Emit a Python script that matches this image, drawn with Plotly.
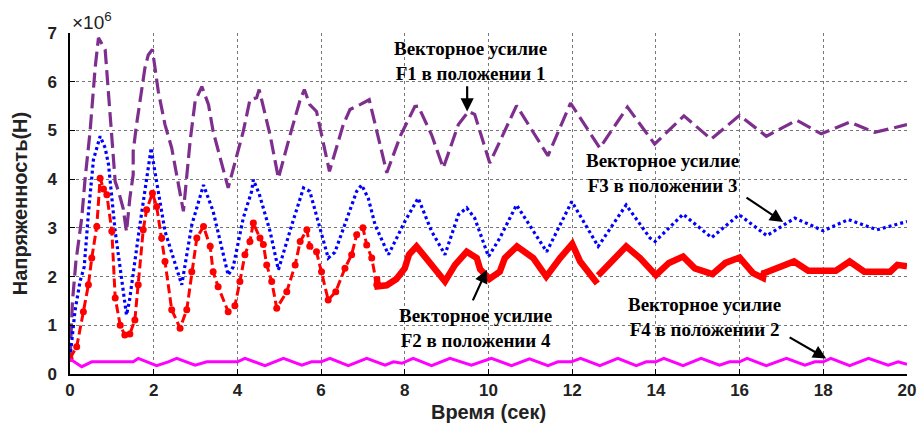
import plotly.graph_objects as go

# ---------------- data (values in units of 1e6 N) ----------------
f1_t = [0, 0.06, 0.14, 0.28, 0.36, 0.48, 0.6, 0.68, 0.84, 1.08, 1.16, 1.27, 1.35, 1.43, 1.51, 1.51,
        1.59, 1.79, 1.87, 1.97, 2.11, 2.27, 2.43, 2.63, 2.71, 2.87, 2.99, 3.15, 3.31, 3.42, 3.78,
        4.14, 4.30, 4.46, 4.52, 4.78, 4.98, 5.26, 5.50, 5.60, 5.73, 5.89, 6.20, 6.53, 6.69, 6.93,
        7.15, 7.57, 7.9, 8.24, 8.32, 8.64, 8.92, 9.28, 9.52, 9.67, 10.03, 10.67, 11.42, 11.96,
        12.66, 13.32, 13.97, 14.67, 15.32, 16.0, 16.64, 17.36, 17.95, 18.63, 19.23, 20.0]
f1_v = [0.3, 1.5, 2.3, 3.2, 4.0, 4.98, 6.28, 6.9, 6.66, 3.95, 3.75, 3.4, 2.92, 3.61, 4.09, 4.57,
        5.12, 6.28, 6.55, 6.66, 5.8, 5.12, 4.64, 3.75, 3.34, 4.78, 5.6, 5.9, 5.53, 4.98, 3.82,
        4.98, 5.63, 5.67, 5.84, 4.91, 4.02, 4.91, 5.63, 5.84, 5.53, 5.39, 4.16, 5.12, 5.43, 5.53,
        5.63, 4.13, 4.9, 5.49, 5.5, 4.91, 4.23, 5.12, 5.39, 5.33, 4.33, 5.51, 4.48, 5.56,
        4.64, 5.48, 4.72, 5.30, 4.82, 5.31, 4.88, 5.21, 4.93, 5.17, 4.96, 5.12]

f3_t = [0, 0.12, 0.24, 0.34, 0.44, 0.56, 0.72, 0.84, 0.92, 1.08, 1.35, 1.42, 1.67, 1.94, 2.0, 2.27,
        2.67, 2.91, 3.19, 3.42, 3.78, 3.9, 4.14, 4.34, 4.38, 4.52, 4.78, 4.98, 5.30, 5.58, 5.73,
        5.97, 6.17, 6.33, 6.61, 6.85, 6.97, 7.13, 7.29, 7.61, 8.0, 8.32, 8.64, 8.96, 9.28, 9.48,
        9.67, 10.0, 10.27, 10.67, 11.39, 11.99, 12.62, 13.29, 13.86, 13.98, 14.65, 15.33, 15.99,
        16.65, 17.32, 18.0, 18.6, 19.28, 20.0]
f3_v = [0.33, 1.3, 1.9, 2.2, 3.3, 4.4, 4.88, 4.64, 4.3, 2.93, 1.21, 1.5, 3.06, 4.64, 4.3, 2.93,
        1.83, 3.06, 3.88, 3.34, 2.03, 2.2, 3.2, 3.75, 3.99, 3.7, 2.93, 2.14, 3.06, 3.82, 3.75,
        3.0, 2.38, 2.5, 3.2, 3.75, 3.88, 3.6, 3.06, 2.45, 3.13, 3.61, 2.93, 2.45, 3.27, 3.41,
        3.2, 2.41, 2.79, 3.47, 2.51, 3.54, 2.62, 3.47, 2.79, 2.72, 3.28, 2.80, 3.27,
        2.84, 3.2, 2.94, 3.17, 2.96, 3.13]

f2_t_early = [0, 0.16, 0.32, 0.44, 0.52, 0.64, 0.72, 0.8, 0.88, 1.0, 1.08, 1.2, 1.31, 1.43, 1.55,
              1.63, 1.75, 1.83, 1.97, 2.07, 2.19, 2.27, 2.43, 2.63, 2.79, 2.91, 3.03, 3.19, 3.35,
              3.42, 3.54, 3.78, 3.94, 4.06, 4.18, 4.30, 4.38, 4.54, 4.62, 4.70, 4.82, 4.94, 5.18,
              5.38, 5.50, 5.66, 5.73, 5.89, 6.01, 6.17, 6.35, 6.57, 6.73, 6.85, 7.0, 7.09, 7.21,
              7.33]
f2_v_early = [0.32, 0.56, 1.28, 1.83, 2.38, 3.03, 4.02, 3.8, 3.68, 2.93, 1.56, 1.0, 0.8, 0.82, 1.11,
              1.83, 2.96, 3.37, 3.71, 3.44, 2.79, 2.31, 1.32, 0.94, 1.32, 2.1, 2.79, 3.03, 2.62,
              2.1, 1.79, 1.28, 1.4, 1.9, 2.45, 2.72, 3.1, 2.79, 2.66, 2.24, 1.9, 1.35, 1.69,
              2.24, 2.72, 2.96, 2.62, 2.51, 2.1, 1.52, 1.69, 2.17, 2.45, 2.86, 3.0, 2.65, 2.38,
              1.83]
f2_t_late = [7.33, 7.35, 7.57, 7.8, 8.0, 8.1, 8.28, 8.5, 8.72, 8.96, 9.2, 9.48, 9.72, 9.80, 10.02,
             10.27, 10.39, 10.68, 11.07, 11.38, 11.71, 12.0, 12.19, 12.6, None,
             12.62, 13.29, 13.62, 14.0, 14.31, 14.65, 14.93, 15.35, 15.66, 16.0, 16.32, 16.56,
             16.58, 16.9, 17.3, 17.64, 18.3, 18.63, 18.98, 19.6, 19.77, 20.0]
f2_v_late = [2.0, 1.8, 1.82, 1.95, 2.17, 2.45, 2.62, 2.4, 2.17, 1.9, 2.24, 2.51, 2.38, 2.15, 1.95,
             2.1, 2.38, 2.62, 2.38, 2.0, 2.38, 2.67, 2.31, 1.86, None,
             2.02, 2.62, 2.38, 2.03, 2.28, 2.41, 2.17, 2.05, 2.28, 2.39, 2.07, 1.97,
             2.07, 2.17, 2.31, 2.12, 2.12, 2.31, 2.1, 2.1, 2.24, 2.21]

f4_t = [0, 0.28, 0.52, 1.51, 1.63, 2.07, 2.35, 2.55, 2.99, 3.27, 4.0, 4.18, 4.66, 4.9, 5.10, 5.54,
        5.77, 6.0, 6.21, 6.65, 6.89, 7.09, 7.53, 7.73, 7.93, 8.2, 8.64, 8.88, 9.08, 9.59, 9.82,
        10.07, 10.55, 10.79, 10.98, 11.42, 11.66, 11.98, 12.2, 12.66, 12.9, 13.09, 13.53, 13.77,
        14.0, 14.19, 14.65, 14.89, 15.08, 15.52, 15.76, 16.0, 16.18, 16.64, 16.88, 17.12, 17.56,
        17.8, 18.0, 18.18, 18.63, 18.87, 19.08, 19.55, 19.79, 20.0]
f4_v = [0.31, 0.15, 0.25, 0.25, 0.32, 0.17, 0.25, 0.32, 0.18, 0.25, 0.25, 0.32, 0.17, 0.25, 0.32, 0.18,
        0.25, 0.25, 0.32, 0.17, 0.25, 0.32, 0.18, 0.25, 0.22, 0.32, 0.17, 0.25, 0.32, 0.18, 0.25,
        0.32, 0.17, 0.25, 0.31, 0.17, 0.25, 0.25, 0.32, 0.17, 0.25, 0.32, 0.17, 0.25,
        0.25, 0.32, 0.17, 0.25, 0.32, 0.18, 0.25, 0.25, 0.32, 0.17, 0.25, 0.32, 0.18,
        0.25, 0.25, 0.32, 0.17, 0.25, 0.32, 0.18, 0.25, 0.2]

x_ticks = [0, 2, 4, 6, 8, 10, 12, 14, 16, 18, 20]
y_ticks = [0, 1, 2, 3, 4, 5, 6, 7]

labels = [
    ("Векторное усилие<br>F1 в положении 1", 9.56, 6.43),
    ("Векторное усилие<br>F3 в положении 3", 14.15, 4.13),
    ("Векторное усилие<br>F2 в положении 4", 9.68, 0.95),
    ("Векторное усилие<br>F4 в положении 2", 15.17, 1.17),
]
arrows = [  # head x, head y, tail x, tail y
    (9.49, 5.39, 9.49, 5.94),
    (17.04, 3.12, 16.13, 3.64),
    (9.96, 2.14, 9.61, 1.48),
    (18.07, 0.32, 17.16, 0.77),
]

PURPLE = "#7E2F8E"
fig = go.Figure()
fig.add_trace(go.Scatter(x=f1_t, y=f1_v, mode="lines",
                         line=dict(color=PURPLE, width=3.2, dash="15px,6px")))
fig.add_trace(go.Scatter(x=f3_t, y=f3_v, mode="lines",
                         line=dict(color="#0000FF", width=3.2, dash="3px,3px")))
fig.add_trace(go.Scatter(x=f2_t_early, y=f2_v_early, mode="lines+markers",
                         line=dict(color="#FF0000", width=3, dash="9px,4px"),
                         marker=dict(color="#FF0000", size=7)))
fig.add_trace(go.Scatter(x=f2_t_late, y=f2_v_late, mode="lines",
                         line=dict(color="#FF0000", width=6.5), connectgaps=False))
fig.add_trace(go.Scatter(x=f4_t, y=f4_v, mode="lines",
                         line=dict(color="#FF00FF", width=3)))

ann_font = dict(family="Liberation Serif", size=19, color="black", weight="bold")
for txt, x, y in labels:
    fig.add_annotation(x=x, y=y, text=txt, showarrow=False, font=ann_font,
                       xanchor="center", yanchor="middle", align="center")
for hx, hy, tx, ty in arrows:
    fig.add_annotation(x=hx, y=hy, ax=tx, ay=ty, axref="x", ayref="y", text="",
                       showarrow=True, arrowhead=2, arrowsize=1.2, arrowwidth=2.2,
                       arrowcolor="black")

fig.add_annotation(x=0, y=1.035, xref="paper", yref="paper", text="×10<sup>6</sup>",
                   showarrow=False, xanchor="left", yanchor="middle",
                   font=dict(family="Liberation Sans", size=19, color="#222"))

tick_font = dict(family="Liberation Sans", size=17, color="#222", weight="bold")
title_font = dict(family="Liberation Sans", size=20, color="#222", weight="bold")
fig.update_xaxes(range=[0, 20], tickvals=x_ticks, ticktext=[str(v) for v in x_ticks],
                 showline=True, linecolor="black", linewidth=1.5, mirror=False,
                 ticks="inside", ticklen=5, tickcolor="black", automargin=False,
                 showgrid=True, gridcolor="#777", griddash="dot", gridwidth=1,
                 zeroline=False, tickfont=tick_font,
                 title=dict(text="Время (сек)", font=title_font, standoff=6))
fig.update_yaxes(range=[0, 7], tickvals=y_ticks, ticktext=[str(v) for v in y_ticks],
                 showline=True, linecolor="black", linewidth=1.5, mirror=False,
                 ticks="inside", ticklen=5, tickcolor="black", automargin=False,
                 ticklabelstandoff=8,
                 showgrid=True, gridcolor="#777", griddash="dot", gridwidth=1,
                 zeroline=False, tickfont=tick_font,
                 title=dict(text="Напряженность(H)", font=title_font, standoff=14))
fig.update_layout(width=917, height=430, showlegend=False,
                  margin=dict(l=70, r=10, t=33, b=56),
                  plot_bgcolor="white", paper_bgcolor="white")
fig.write_html("out.html")
